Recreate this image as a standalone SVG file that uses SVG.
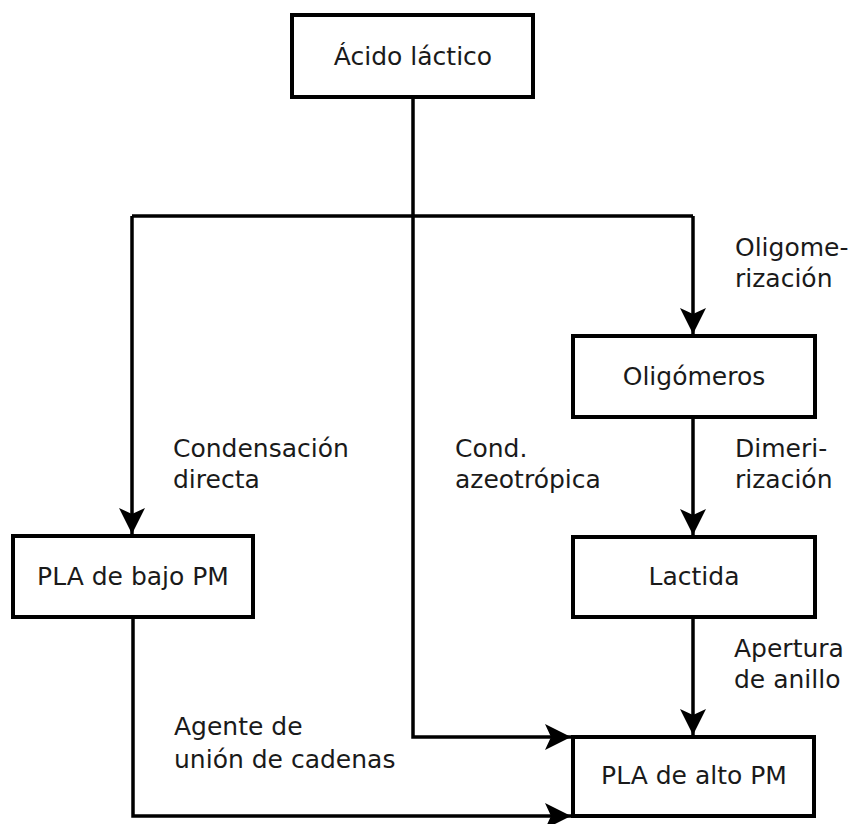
<svg xmlns="http://www.w3.org/2000/svg" width="849" height="824" viewBox="0 0 849 824">
  <style>
    .box { fill: #ffffff; stroke: #000000; stroke-width: 4; }
    .link { fill: none; stroke: #000000; stroke-width: 3.5; }
    .lbl { font-family: "DejaVu Sans", "Liberation Sans", sans-serif; font-size: 25px; fill: #1a1a1a; }
    .ctr { text-anchor: middle; }
  </style>
  <defs>
    <marker id="arrow" markerUnits="userSpaceOnUse" markerWidth="32" markerHeight="32" refX="30" refY="16" orient="auto" viewBox="0 0 32 32">
      <path d="M30,16 L4,3 L10,16 L4,29 Z" fill="#000000"/>
    </marker>
  </defs>
  <rect width="849" height="824" fill="#ffffff"/>

  <g id="connectors">
    <!-- direct line: acid down to high-MW PLA -->
    <path class="link" d="M413,97 V737 H571" marker-end="url(#arrow)"/>
    <!-- branch bar -->
    <path class="link" d="M132,216 H693"/>
    <path class="link" d="M132,216 V534" marker-end="url(#arrow)"/>
    <path class="link" d="M693,216 V334" marker-end="url(#arrow)"/>
    <path class="link" d="M693,417 V535" marker-end="url(#arrow)"/>
    <path class="link" d="M693,617 V735" marker-end="url(#arrow)"/>
    <!-- low-MW PLA to high-MW PLA -->
    <path class="link" d="M133,617 V816 H571" marker-end="url(#arrow)"/>
  </g>

  <g id="acido">
    <rect class="box" x="292" y="15" width="241" height="82"/>
    <text class="lbl ctr" x="413" y="65">Ácido láctico</text>
  </g>
  <g id="oligomeros">
    <rect class="box" x="573" y="336" width="242" height="81"/>
    <text class="lbl ctr" x="694" y="385">Oligómeros</text>
  </g>
  <g id="pla-bajo">
    <rect class="box" x="13" y="536" width="240" height="81"/>
    <text class="lbl ctr" x="133" y="585">PLA de bajo PM</text>
  </g>
  <g id="lactida">
    <rect class="box" x="573" y="537" width="242" height="80"/>
    <text class="lbl ctr" x="694" y="585">Lactida</text>
  </g>
  <g id="pla-alto">
    <rect class="box" x="573" y="737" width="241" height="79"/>
    <text class="lbl ctr" x="694" y="784">PLA de alto PM</text>
  </g>

  <g id="labels">
    <text class="lbl" x="735" y="256">Oligome-</text>
    <text class="lbl" x="735" y="287">rización</text>
    <text class="lbl" x="173" y="457">Condensación</text>
    <text class="lbl" x="173" y="488">directa</text>
    <text class="lbl" x="455" y="457">Cond.</text>
    <text class="lbl" x="455" y="488">azeotrópica</text>
    <text class="lbl" x="735" y="457">Dimeri-</text>
    <text class="lbl" x="735" y="488">rización</text>
    <text class="lbl" x="734" y="657">Apertura</text>
    <text class="lbl" x="734" y="688">de anillo</text>
    <text class="lbl" x="174" y="735">Agente de</text>
    <text class="lbl" x="174" y="768">unión de cadenas</text>
  </g>
</svg>
